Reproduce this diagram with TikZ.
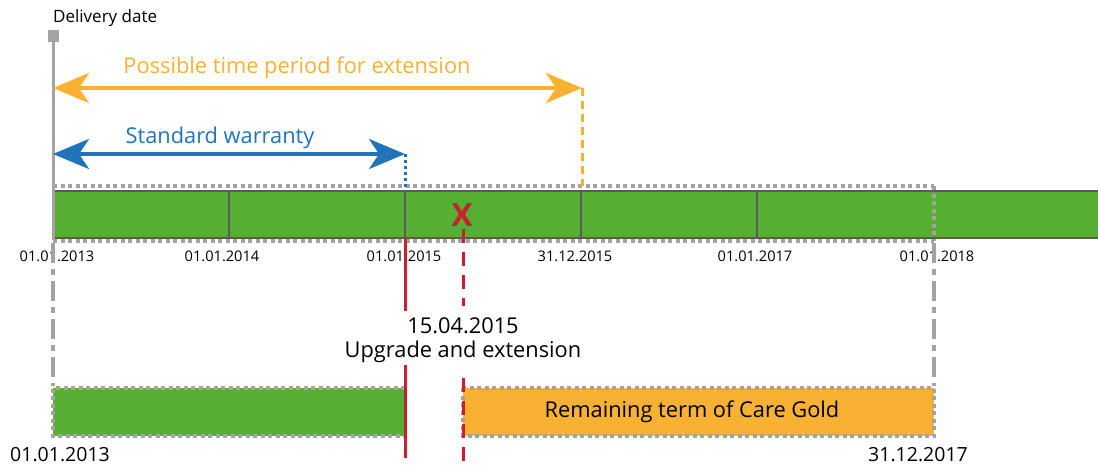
\documentclass[tikz,border=0pt]{standalone}
\usepackage{fontspec}
\setmainfont{Open Sans}
\usetikzlibrary{arrows.meta}
\definecolor{cgreen}{HTML}{56AE32}
\definecolor{corange}{HTML}{F8B133}
\definecolor{cblue}{HTML}{2274BA}
\definecolor{cred}{HTML}{C8202F}
\definecolor{cgray}{HTML}{A3A3A3}
\definecolor{cdark}{HTML}{5A5A5A}
\tikzset{
  dotbox/.style={draw=cgray,line width=3.5pt,dash pattern=on 4pt off 3.5pt},
  dashdot/.style={draw=cgray,line width=4pt,dash pattern=on 20pt off 6pt on 6pt off 6pt},
  bigarrow/.style={line width=4pt,{Stealth[length=36pt,width=30pt,inset=10pt]}-{Stealth[length=36pt,width=30pt,inset=10pt]}},
  ticklbl/.style={font=\fontsize{14.6}{16}\selectfont,inner sep=0pt},
  biglbl/.style={font=\fontsize{21.8}{24}\selectfont,inner sep=0pt},
  datelbl/.style={font=\fontsize{19.5}{22}\selectfont,inner sep=0pt},
  tick/.style={draw=cdark,line width=2pt},
}
\begin{document}
\begin{tikzpicture}[x=1pt,y=-1pt]
\useasboundingbox (0,0) rectangle (1098,466);
% main bar
\fill[cgreen] (53,191) rectangle (1098,238);
\draw[cdark,line width=2pt] (53,191) -- (1098,191) (53,238) -- (1098,238);
\foreach \x in {229,405,581,757} \draw[tick] (\x,191) -- (\x,238);
% dotted frame around first five years
\draw[dotbox] (53,186) -- (934,186);
\draw[dotbox] (53,241) -- (934,241);
\draw[dotbox] (934,186) -- (934,241);
% delivery date marker
\fill[cgray] (48,30) rectangle (59,42);
\draw[cgray,line width=3pt] (53,42) -- (53,240);
\node[anchor=base west,inner sep=0pt,font=\fontsize{17}{19}\selectfont] (dd) at (53,22) {Delivery date};
% orange arrow
\coordinate (oa) at (53,88);
\coordinate (ob) at (582,88);
\coordinate (oc) at (582,186);
\draw[corange,bigarrow] (oa) -- (ob);
\draw[corange,line width=3pt,dash pattern=on 8pt off 5pt] (ob) -- (oc);
\node[biglbl,text=corange] (olbl) at (297,68) {Possible time period for extension};
% blue arrow
\coordinate (ba) at (53,154);
\coordinate (bb) at (405,154);
\coordinate (bc) at (405,189);
\draw[cblue,bigarrow] (ba) -- (bb);
\draw[cblue,line width=3pt,dash pattern=on 3pt off 3pt] (bb) -- (bc);
\node[biglbl,text=cblue] (blbl) at (220,138) {Standard warranty};
% red x
\node[text=cred,font=\fontsize{32}{34}\selectfont\bfseries,inner sep=0pt] (rx) at (462,215) {X};
% tick labels
\node[ticklbl] (l13) at (57,256) {01.01.2013};
\node[ticklbl] (l14) at (222,256) {01.01.2014};
\node[ticklbl] (l15) at (404,256) {01.01.2015};
\node[ticklbl] (l1512) at (575,256) {31.12.2015};
\node[ticklbl] (l17) at (755,256) {01.01.2017};
\node[ticklbl] (l18) at (937,256) {01.01.2018};
% dash-dot projections
\draw[dashdot] (53,243) -- (53,386);
\draw[dashdot] (934,243) -- (934,386);
% lower bars
\fill[cgreen] (53,388) rectangle (405,436);
\draw[dotbox] (405,388) -- (53,388) -- (53,436) -- (405,436);
\fill[corange] (463,388) rectangle (934,436);
\draw[dotbox] (463,388) rectangle (934,436);
\node[biglbl] (cg) at (692,412) {Remaining term of Care Gold};
% upgrade labels
\node[biglbl] (ud) at (463,326) {15.04.2015};
\node[biglbl] (ut) at (463,352) {Upgrade and extension};
% red lines
\coordinate (r1) at (405,238);
\coordinate (r2) at (405,311);
\coordinate (r3) at (405,365);
\coordinate (r4) at (405,458);
\draw[cred,line width=3pt] (r1) -- (r2) (r3) -- (r4);
\coordinate (d1) at (463,229);
\coordinate (d2) at (463,306);
\coordinate (d3) at (463,378);
\coordinate (d4) at (463,461);
\draw[cred,line width=3pt,dash pattern=on 14pt off 9pt] (d1) -- (d2);
\draw[cred,line width=3pt,dash pattern=on 14pt off 9pt] (d3) -- (d4);
% bottom labels
\node[datelbl] (b13) at (60,455) {01.01.2013};
\node[datelbl] (b17) at (918,455) {31.12.2017};
\end{tikzpicture}
\end{document}
